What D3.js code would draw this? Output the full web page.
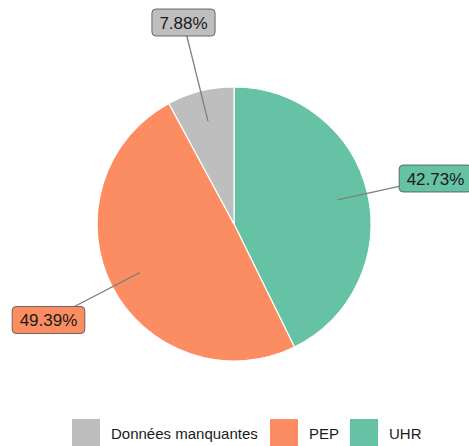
<!DOCTYPE html>
<html><head><meta charset="utf-8">
<script src="https://cdn.jsdelivr.net/npm/d3@7"></script>
<style>body{margin:0;background:#fff}svg{display:block}text{font-family:"Liberation Sans",Arial,sans-serif}</style>
</head><body>
<script>
const categories = ["UHR", "PEP", "Données manquantes"];
const values = [42.73, 49.39, 7.88];
const labels = ["42.73%", "49.39%", "7.88%"];
const colors = ["#66C2A5", "#FC8D62", "#BEBEBE"];
const legendOrder = ["Données manquantes", "PEP", "UHR"];
// label box centres (repelled positions)
const labelPos = [[435.5, 178.5], [48.5, 320], [183.5, 22.5]];

const W = 469, H = 446;
const svg = d3.select("body").append("svg").attr("width", W).attr("height", H);
const cx = 234, cy = 224, R = 137;
const data = categories.map((c, i) => ({cat: c, v: values[i], label: labels[i], color: colors[i], pos: labelPos[i]}));
const pie = d3.pie().sort(null).value(d => d.v);
const arcs = pie(data);
const arc = d3.arc().innerRadius(0).outerRadius(R);
const g = svg.append("g").attr("transform", `translate(${cx},${cy})`);
g.selectAll("path").data(arcs).join("path")
  .attr("d", arc).attr("fill", d => d.data.color)
  .attr("stroke", "#fff").attr("stroke-width", 1.2);

const rLab = R * 0.775;
arcs.forEach(a => {
  const m = (a.startAngle + a.endAngle) / 2;
  const px = cx + rLab * Math.sin(m), py = cy - rLab * Math.cos(m);
  const [lx, ly] = a.data.pos;
  const t = svg.append("text").attr("x", lx).attr("y", ly + 0.5).attr("text-anchor", "middle")
    .attr("dominant-baseline", "central").attr("font-size", 17).attr("fill", "#1a1a1a").text(a.data.label);
  const bb = t.node().getBBox();
  const bw = bb.width + 15, bh = 27;
  const bx = lx - bw / 2, by = ly - bh / 2;
  // clip line to box edge
  const dx = lx - px, dy = ly - py;
  let f = Infinity;
  if (dx !== 0) f = Math.min(f, (bw / 2) / Math.abs(dx));
  if (dy !== 0) f = Math.min(f, (bh / 2) / Math.abs(dy));
  const ex = lx - dx * f, ey = ly - dy * f;
  svg.insert("line", "text").attr("x1", px).attr("y1", py).attr("x2", ex).attr("y2", ey)
    .attr("stroke", "#7f7f7f").attr("stroke-width", 1.3);
  svg.insert("rect", "text").attr("x", bx).attr("y", by).attr("width", bw).attr("height", bh)
    .attr("rx", 4).attr("fill", a.data.color).attr("stroke", "#4d4d4d").attr("stroke-width", 0.8);
});

// legend
const colorOf = d3.scaleOrdinal().domain(categories).range(colors);
const legendX = [72, 270, 350];
const lg = svg.append("g");
legendOrder.forEach((c, i) => {
  lg.append("rect").attr("x", legendX[i]).attr("y", 419).attr("width", 28).attr("height", 28).attr("fill", colorOf(c));
  lg.append("text").attr("x", legendX[i] + 39).attr("y", 439).attr("font-size", 15).attr("fill", "#1a1a1a").text(c);
});
</script>
</body></html>
